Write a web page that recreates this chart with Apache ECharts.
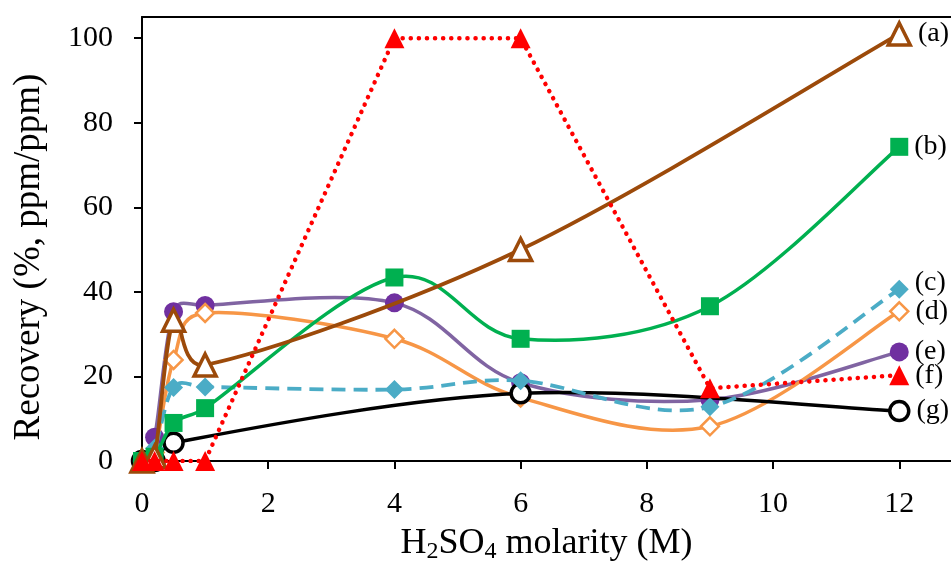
<!DOCTYPE html>
<html><head><meta charset="utf-8">
<script src="https://cdn.jsdelivr.net/npm/echarts@6/dist/echarts.min.js"></script>
<style>html,body{margin:0;padding:0;background:#fff}#c{width:951px;height:562px}</style>
</head><body><div id="c"></div>
<script>
const xTicks = [0, 2, 4, 6, 8, 10, 12];
const yTicks = [0, 20, 40, 60, 80, 100];

const xA = [0, 0.2, 0.5, 1, 6, 12];
const yA = [0, 1, 33.3, 22.7, 50, 101];
const xB = [0, 0.2, 0.5, 1, 4, 6, 9, 12];
const yB = [0, 1, 9, 12.5, 43.4, 28.9, 36.6, 74.3];
const xC = [0, 0.2, 0.5, 1, 4, 6, 9, 12];
const yC = [0, 3, 17.4, 17.5, 16.9, 19, 12.8, 40.6];
const xD = [0, 0.2, 0.5, 1, 4, 6, 9, 12];
const yD = [0, 2, 23.9, 35, 28.9, 15, 8.2, 35.4];
const xE = [0, 0.2, 0.5, 1, 4, 6, 9, 12];
const yE = [0, 5.6, 35.3, 36.8, 37.4, 18.5, 14.5, 25.8];
const xF = [0, 0.2, 0.5, 1, 4, 6, 9, 12];
const yF = [0, 0, 0, 0, 100, 100, 17.2, 20.3];
const xG = [0, 0.2, 0.5, 6, 12];
const yG = [0, 0, 4.3, 16, 11.8];
const names = ['(a)', '(b)', '(c)', '(d)', '(e)', '(f)', '(g)'];

const FONT = '"Liberation Serif", "Times New Roman", serif';

// Excel-like smoothed path (Bezier, tension 1/6 with arm clamp), computed in pixel space
function smoothPath(p) {
  const n = p.length;
  if (n < 2) return '';
  let d = 'M' + p[0][0] + ' ' + p[0][1];
  for (let i = 0; i < n - 1; i++) {
    const P0 = p[Math.max(i - 1, 0)], P1 = p[i], P2 = p[i + 1], P3 = p[Math.min(i + 2, n - 1)];
    const seg = Math.hypot(P2[0] - P1[0], P2[1] - P1[1]);
    const v1 = [P2[0] - P0[0], P2[1] - P0[1]], l1 = Math.hypot(v1[0], v1[1]);
    const v2 = [P3[0] - P1[0], P3[1] - P1[1]], l2 = Math.hypot(v2[0], v2[1]);
    let f1 = 1 / 6, f2 = 1 / 6;
    if (l1 / 6 > seg / 2) f1 = seg / (2 * l1);
    if (l2 / 6 > seg / 2) f2 = seg / (2 * l2);
    const c1 = [P1[0] + v1[0] * f1, P1[1] + v1[1] * f1];
    const c2 = [P2[0] - v2[0] * f2, P2[1] - v2[1] * f2];
    d += ' C' + c1[0] + ' ' + c1[1] + ' ' + c2[0] + ' ' + c2[1] + ' ' + P2[0] + ' ' + P2[1];
  }
  return d;
}

function markerData(xs, ys, label, labelOffset) {
  return xs.map((x, i) => {
    const d = { value: [x, ys[i]] };
    if (i === xs.length - 1) {
      d.label = { show: true, position: 'right', formatter: label, distance: 6,
        color: '#000', fontFamily: FONT, fontSize: 28, offset: labelOffset || [0, 0] };
    }
    return d;
  });
}

function curve(xs, ys, color, width, dash, z) {
  return {
    type: 'custom', silent: true, z: z, clip: false,
    data: xs.map((x, i) => [x, ys[i]]),
    encode: { x: 0, y: 1 },
    renderItem: function (params, api) {
      if (params.dataIndex !== 0) return null;
      const px = xs.map((x, i) => api.coord([x, ys[i]]));
      return {
        type: 'path',
        shape: { pathData: smoothPath(px) },
        style: { fill: 'none', stroke: color, lineWidth: width, lineDash: dash || null, lineCap: dash ? 'butt' : 'round', lineJoin: 'round' }
      };
    }
  };
}

function markers(name, xs, ys, symbol, size, item, z, labelOffset) {
  return {
    type: 'scatter', name: name, z: z, symbol: symbol, symbolSize: size,
    itemStyle: Object.assign({ opacity: 1 }, item),
    data: markerData(xs, ys, name, labelOffset)
  };
}

const brown = '#9C4A0A', green = '#00B050', blue = '#4BACC6', orange = '#F79646',
      purpleM = '#7030A0', purpleL = '#8064A2', red = '#FF0000';

const series = [
  curve(xE, yE, purpleL, 3.5, null, 2),
  markers(names[4], xE, yE, 'circle', 19, { color: purpleM }, 3),
  curve(xD, yD, orange, 3.5, null, 4),
  markers(names[3], xD, yD, 'diamond', 18, { color: '#fff', borderColor: orange, borderWidth: 2.5 }, 5),
  curve(xG, yG, '#000', 3.5, null, 6),
  markers(names[6], xG, yG, 'circle', 19, { color: '#fff', borderColor: '#000', borderWidth: 3.5 }, 7),
  curve(xC, yC, blue, 3.8, [14, 8], 8),
  markers(names[2], xC, yC, 'diamond', 19, { color: blue }, 9, [0, -7]),
  curve(xB, yB, green, 3.5, null, 10),
  markers(names[1], xB, yB, 'rect', 18, { color: green }, 11),
  curve(xA, yA, brown, 3.8, null, 12),
  markers(names[0], xA, yA, 'triangle', 22, { color: '#fff', borderColor: brown, borderWidth: 3.5 }, 13),
  {
    type: 'line', name: names[5], z: 14, smooth: false,
    symbol: 'triangle', symbolSize: 20, showAllSymbol: true,
    itemStyle: { color: red },
    lineStyle: { color: red, width: 4.5, type: [0.1, 8], cap: 'round' },
    data: markerData(xF, yF, names[5])
  }
];

const chart = echarts.init(document.getElementById('c'), null, { renderer: 'canvas' });
chart.setOption({
  backgroundColor: '#fff',
  animation: false,
  grid: { left: 142, right: 0, top: 17, bottom: 101, containLabel: false, outerBoundsMode: 'none' },
  xAxis: [{
    type: 'value', min: 0, max: 12.82, position: 'bottom',
    axisLine: { show: true, onZero: false, lineStyle: { color: '#000', width: 2 } },
    axisTick: { show: true, length: 8, lineStyle: { color: '#000', width: 2 }, customValues: xTicks },
    axisLabel: { customValues: xTicks, color: '#000', fontFamily: FONT, fontSize: 30, margin: 28 },
    splitLine: { show: false },
    name: 'H{s|2}SO{s|4} molarity (M)', nameLocation: 'middle', nameGap: 61,
    nameTextStyle: { color: '#000', fontFamily: FONT, fontSize: 36, lineHeight: 40, verticalAlign: 'top',
      rich: { s: { fontFamily: FONT, fontSize: 24, lineHeight: 22, verticalAlign: 'bottom', color: '#000' } } }
  }, {
    type: 'value', min: 0, max: 12.82, position: 'top',
    axisLine: { show: true, onZero: false, lineStyle: { color: '#000', width: 2 } },
    axisTick: { show: false }, axisLabel: { show: false }, splitLine: { show: false }
  }],
  yAxis: [{
    type: 'value', min: 0, max: 105,
    axisLine: { show: true, onZero: false, lineStyle: { color: '#000', width: 2 } },
    axisTick: { show: true, length: 8, lineStyle: { color: '#000', width: 2 }, customValues: yTicks },
    axisLabel: { customValues: yTicks, color: '#000', fontFamily: FONT, fontSize: 30, margin: 29 },
    splitLine: { show: false },
    name: 'Recovery (%, ppm/ppm)', nameLocation: 'middle', nameGap: 94, nameRotate: 90,
    nameTextStyle: { color: '#000', fontFamily: FONT, fontSize: 37, padding: [0, 36, 0, 0] }
  }],
  series: series
});
</script></body></html>
